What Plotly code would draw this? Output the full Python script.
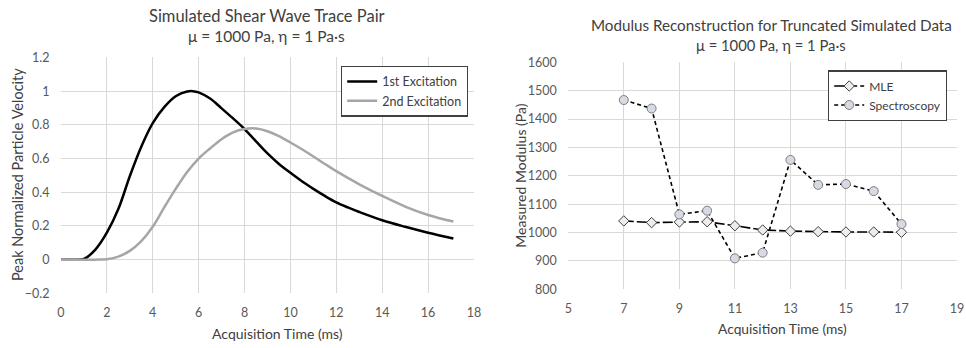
import plotly.graph_objects as go

# Left chart data
t1 = [0, 0.5, 1.0, 1.5, 2.0, 2.5, 3.0, 3.5, 4.0, 4.5, 5.0, 5.5, 5.75, 6.0, 6.5, 7.0, 7.5, 8.0,
      8.5, 9.0, 9.5, 10.0, 10.5, 11.0, 11.5, 12.0, 12.5, 13.0, 14.0, 15.0, 16.0, 17.1]
v1 = [0, 0, 0.004, 0.06, 0.16, 0.30, 0.495, 0.67, 0.81, 0.905, 0.97, 0.998, 1.0, 0.993, 0.956, 0.898, 0.838, 0.775,
      0.702, 0.63, 0.568, 0.515, 0.465, 0.42, 0.378, 0.34, 0.31, 0.283, 0.234, 0.195, 0.16, 0.125]
t2 = [0, 1.0, 1.5, 2.0, 2.5, 3.0, 3.5, 4.0, 4.5, 5.0, 5.5, 6.0, 6.5, 7.0, 7.5, 8.0, 8.5, 9.0,
      9.5, 10.0, 10.5, 11.0, 11.5, 12.0, 12.5, 13.0, 14.0, 15.0, 16.0, 17.1]
v2 = [0, 0, 0.0, 0.003, 0.018, 0.052, 0.11, 0.195, 0.31, 0.42, 0.52, 0.60, 0.66, 0.715, 0.755, 0.775, 0.778, 0.762,
      0.733, 0.695, 0.655, 0.612, 0.568, 0.525, 0.485, 0.447, 0.378, 0.315, 0.265, 0.226]

# Right chart data
acq = [7, 8, 9, 10, 11, 12, 13, 14, 15, 16, 17]
mle = [1041, 1035, 1037, 1038, 1024, 1009, 1005, 1003, 1002, 1002, 1001]
spec = [1467, 1437, 1064, 1077, 909, 929, 1256, 1168, 1171, 1146, 1030]

FONT = "Lato"
TICK = "#595959"
GRID = "#d9d9d9"
TXT = "#404040"

fig = go.Figure()
fig.add_trace(go.Scatter(x=t1, y=v1, mode="lines", name="1st Excitation",
                         line=dict(color="black", width=2.5, shape="spline", smoothing=1.0),
                         xaxis="x", yaxis="y", legend="legend"))
fig.add_trace(go.Scatter(x=t2, y=v2, mode="lines", name="2nd Excitation",
                         line=dict(color="#a6a6a6", width=2.5, shape="spline", smoothing=1.0),
                         xaxis="x", yaxis="y", legend="legend"))
fig.add_trace(go.Scatter(x=acq, y=mle, mode="lines+markers", name="MLE",
                         line=dict(color="black", width=1.6, dash="10px,3px"),
                         marker=dict(symbol="diamond", size=8, color="#ededed",
                                     line=dict(color="#404040", width=1)),
                         xaxis="x2", yaxis="y2", legend="legend2"))
fig.add_trace(go.Scatter(x=acq, y=spec, mode="lines+markers", name="Spectroscopy",
                         line=dict(color="black", width=1.6, dash="4px,3px"),
                         marker=dict(symbol="circle", size=9, color="#d6dae3",
                                     line=dict(color="#7f7f7f", width=1)),
                         xaxis="x2", yaxis="y2", legend="legend2"))

def ax(**kw):
    d = dict(showgrid=True, gridcolor=GRID, gridwidth=1, zeroline=False,
             showline=False, ticks="outside", tickcolor="rgba(0,0,0,0)",
             tickfont=dict(family=FONT, size=12.5, color=TICK))
    d.update(kw)
    return d

fig.update_layout(
    width=966, height=348,
    margin=dict(l=0, r=0, t=0, b=0, autoexpand=False),
    paper_bgcolor="white", plot_bgcolor="white",
    font=dict(family=FONT, color=TXT),
    xaxis=ax(domain=[0.0631, 0.4907], range=[0, 18], dtick=2, anchor="y", ticklen=8),
    yaxis=ax(domain=[0.157, 0.835], range=[-0.2, 1.2], dtick=0.2, anchor="x",
             tickformat="~g", ticklen=8),
    xaxis2=ax(domain=[0.5883, 0.9907], range=[5, 19], tick0=5, dtick=2, anchor="y2", ticklen=8),
    yaxis2=ax(domain=[0.1687, 0.821], range=[800, 1600], dtick=100, anchor="x2", ticklen=8),
    legend=dict(x=341/966, y=1 - 65.7/348, xanchor="left", yanchor="top",
                bgcolor="white", bordercolor=TXT, borderwidth=1.2,
                font=dict(family=FONT, size=12.5, color=TXT),
                tracegroupgap=0, itemwidth=30),
    legend2=dict(x=828/966, y=1 - 70.3/348, xanchor="left", yanchor="top",
                 bgcolor="white", bordercolor=TXT, borderwidth=1.2,
                 font=dict(family=FONT, size=12, color=TXT),
                 tracegroupgap=0, itemwidth=30),
    showlegend=True,
)

ann = [
    dict(text="Simulated Shear Wave Trace Pair", x=266.5/966, y=1 - 15.7/348, size=16.5),
    dict(text="μ = 1000 Pa, η = 1 Pa·s", x=266.5/966, y=1 - 36/348, size=15.5),
    dict(text="Modulus Reconstruction for Truncated Simulated Data", x=771/966, y=1 - 25/348, size=15.2),
    dict(text="μ = 1000 Pa, η = 1 Pa·s", x=771/966, y=1 - 45/348, size=14.8),
    dict(text="Acquisition Time (ms)", x=277/966, y=1 - 333/348, size=14),
    dict(text="Acquisition Time (ms)", x=(483 + 299)/966, y=1 - 328/348, size=13.8),
]
for a in ann:
    fig.add_annotation(text=a["text"], x=a["x"], y=a["y"], xref="paper", yref="paper",
                       xanchor="center", yanchor="middle", showarrow=False,
                       font=dict(family=FONT, size=a["size"], color=TXT))
fig.add_annotation(text="Peak Normalized Particle Velocity", x=17/966, y=1 - 175/348,
                   xref="paper", yref="paper", textangle=-90, showarrow=False,
                   xanchor="center", yanchor="middle",
                   font=dict(family=FONT, size=14.5, color=TXT))
fig.add_annotation(text="Measured Modulus (Pa)", x=519.7/966, y=1 - 176/348,
                   xref="paper", yref="paper", textangle=-90, showarrow=False,
                   xanchor="center", yanchor="middle",
                   font=dict(family=FONT, size=14, color=TXT))

fig.write_html("out.html")
